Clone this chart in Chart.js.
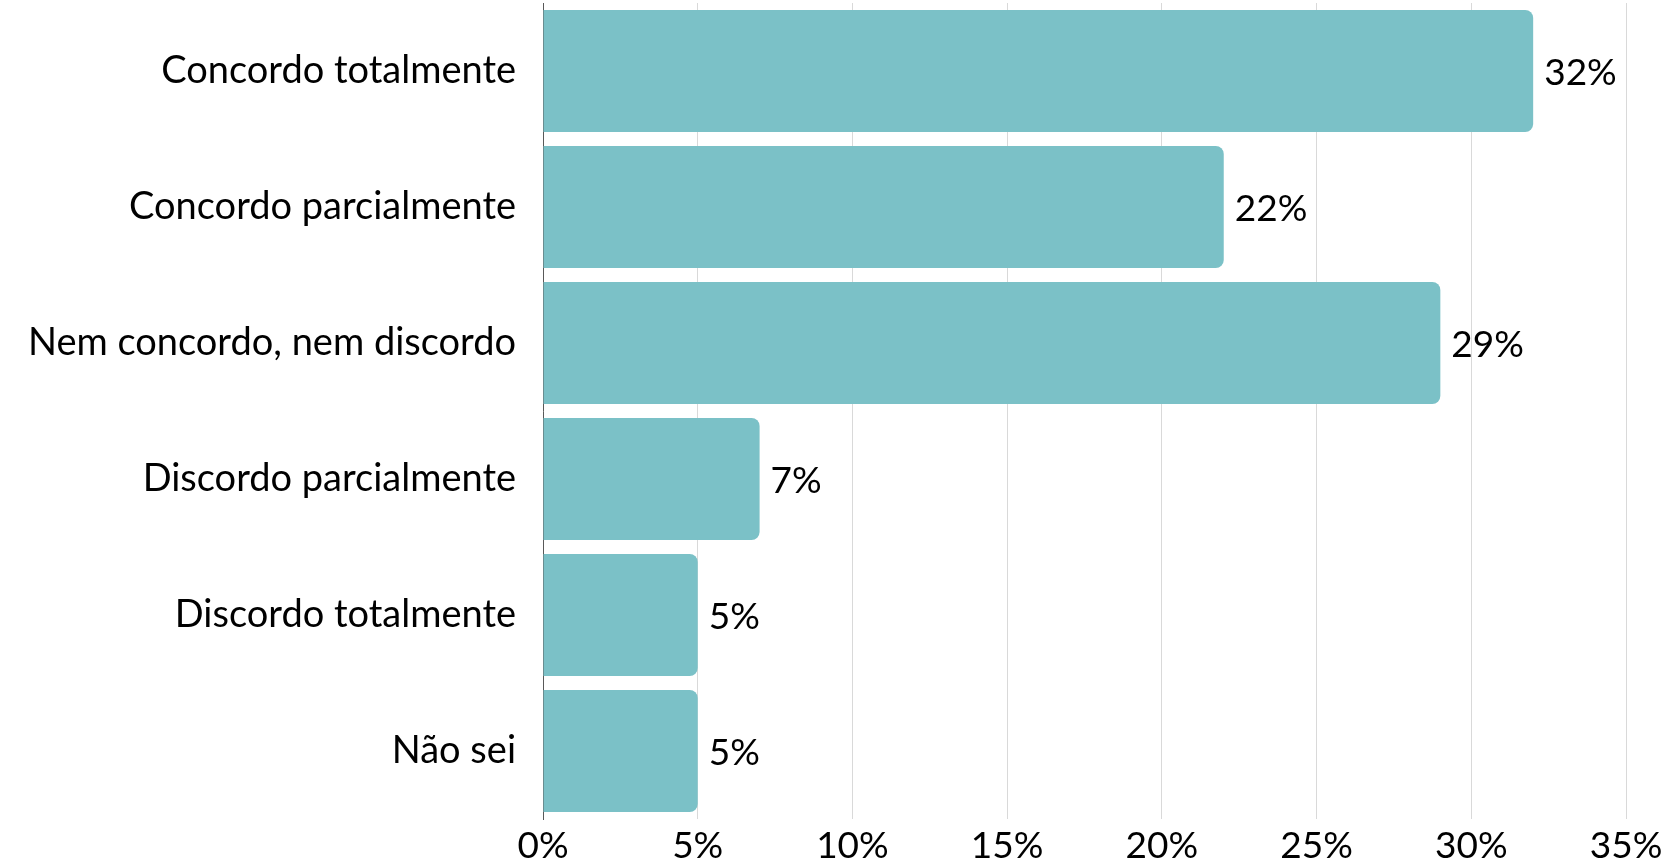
<!DOCTYPE html>
<html>
<head>
<meta charset="utf-8">
<script src="https://cdn.jsdelivr.net/npm/chart.js@4/dist/chart.umd.min.js"></script>
<style>
  html, body { margin: 0; padding: 0; background: #fff; }
  #wrap { width: 1672px; height: 862px; }
</style>
</head>
<body>
<div id="wrap"><canvas id="chart" width="1672" height="862"></canvas></div>
<script>
// dados
const categorias = ['Concordo totalmente', 'Concordo parcialmente', 'Nem concordo, nem discordo', 'Discordo parcialmente', 'Discordo totalmente', 'Não sei'];
const percentuais = [32, 22, 29, 7, 5, 5];
const escalaMax = 35;
const passo = 5;

const fonte = 'Lato, "Noto Sans", sans-serif';

// rótulos de valor ao lado das barras
const rotulosBarras = {
    id: 'rotulosBarras',
    afterDatasetsDraw(chart) {
        const ctx = chart.ctx;
        const meta = chart.getDatasetMeta(0);
        ctx.save();
        ctx.font = '37px ' + fonte;
        ctx.fillStyle = '#000';
        ctx.textAlign = 'left';
        ctx.textBaseline = 'middle';
        meta.data.forEach((bar, i) => {
            ctx.fillText(percentuais[i] + '%', bar.x + 11, bar.y + 2);
        });
        ctx.restore();
    }
};

new Chart(document.getElementById('chart').getContext('2d'), {
    type: 'bar',
    data: {
        labels: categorias,
        datasets: [{
            data: percentuais,
            backgroundColor: '#7BC1C7',
            borderRadius: { topRight: 8, bottomRight: 8 },
            borderSkipped: 'left',
            barPercentage: 1,
            categoryPercentage: 0.897
        }]
    },
    options: {
        indexAxis: 'y',
        responsive: false,
        animation: false,
        layout: { padding: { top: 3, right: 46, bottom: 0, left: 0 } },
        plugins: {
            legend: { display: false },
            tooltip: { enabled: false }
        },
        scales: {
            x: {
                min: 0,
                max: escalaMax,
                grid: { color: '#d9d9d9', lineWidth: 1, drawTicks: false },
                border: { display: false },
                ticks: {
                    stepSize: passo,
                    padding: 5,
                    color: '#000',
                    font: { family: fonte, size: 37 },
                    callback: v => v + '%'
                },
                afterFit(scale) { scale.height = 43; }
            },
            y: {
                grid: { display: false, drawTicks: false },
                border: { display: true, color: '#595959', width: 1 },
                ticks: {
                    padding: 27,
                    color: '#000',
                    font: { family: fonte, size: 38 }
                },
                afterFit(scale) {
                    scale.width = 543;
                    scale.paddingTop = 0;
                    scale.paddingBottom = 0;
                }
            }
        }
    },
    plugins: [rotulosBarras]
});
</script>
</body>
</html>
